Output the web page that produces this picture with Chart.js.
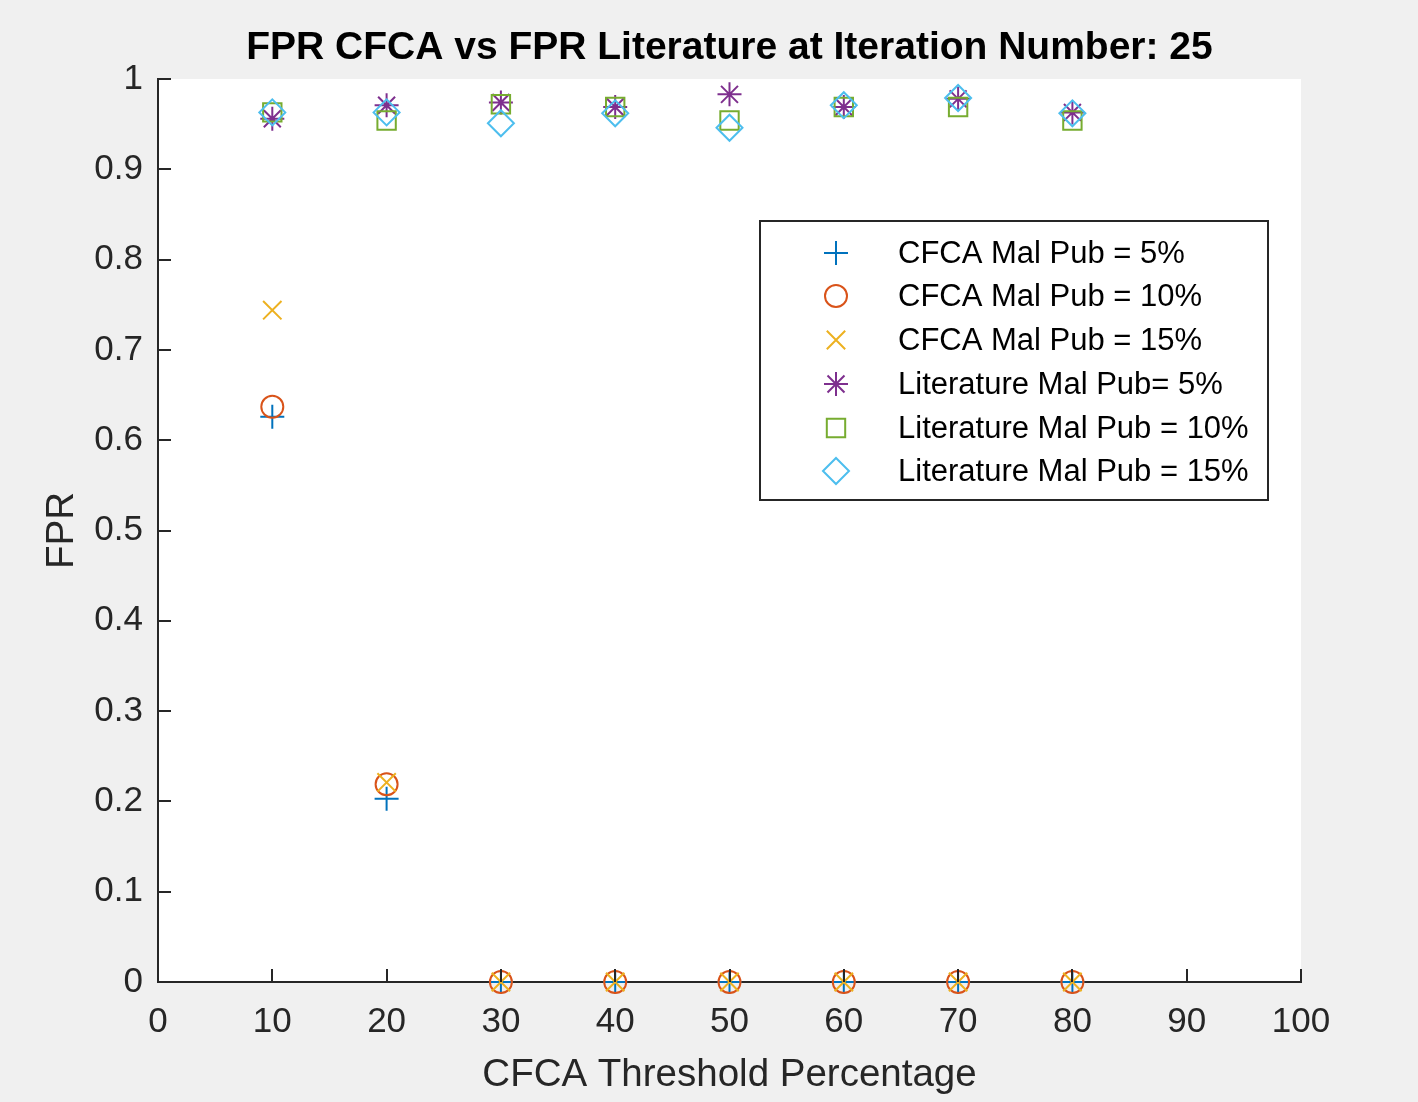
<!DOCTYPE html>
<html>
<head>
<meta charset="utf-8">
<script src="https://cdn.jsdelivr.net/npm/chart.js@4/dist/chart.umd.min.js"></script>
<style>
  html, body { margin: 0; padding: 0; background: #f0f0f0; }
  #wrap { width: 1418px; height: 1102px; }
  canvas { display: block; }
</style>
</head>
<body>
<div id="wrap"><canvas id="c" width="1418" height="1102"></canvas></div>
<script>
// ---- data ----
const thresholds = [10, 20, 30, 40, 50, 60, 70, 80];
const cfca5  = [0.626, 0.203, 0, 0, 0, 0, 0, 0];
const cfca10 = [0.637, 0.219, 0, 0, 0, 0, 0, 0];
const cfca15 = [0.744, 0.221, 0, 0, 0, 0, 0, 0];
const lit5   = [0.956, 0.971, 0.974, 0.969, 0.983, 0.969, 0.978, 0.963];
const lit10  = [0.963, 0.954, 0.972, 0.969, 0.954, 0.969, 0.969, 0.954];
const lit15  = [0.963, 0.963, 0.951, 0.962, 0.946, 0.971, 0.979, 0.962];
const seriesLabels = [
  'CFCA Mal Pub = 5%',
  'CFCA Mal Pub = 10%',
  'CFCA Mal Pub = 15%',
  'Literature Mal Pub= 5%',
  'Literature Mal Pub = 10%',
  'Literature Mal Pub = 15%'
];
const xTicks = [0, 10, 20, 30, 40, 50, 60, 70, 80, 90, 100];
const yTicks = [0, 0.1, 0.2, 0.3, 0.4, 0.5, 0.6, 0.7, 0.8, 0.9, 1];
const titleText = 'FPR CFCA vs FPR Literature at Iteration Number: 25';
const xTitle = 'CFCA Threshold Percentage';
const yTitle = 'FPR';

// ---- styles ----
const FONT = '"Liberation Sans", Arial, Helvetica, sans-serif';
const AXIS = '#262626';
const colors = ['#0072BD', '#D95319', '#EDB120', '#7E2F8E', '#77AC30', '#4DBEEE'];
const styles = ['cross', 'circle', 'crossRot', 'star', 'rect', 'rectRot'];
const radii = [12, 11, 13, 12, 13, 13];
const values = [cfca5, cfca10, cfca15, lit5, lit10, lit15];

const datasets = values.map((vals, i) => ({
  label: seriesLabels[i],
  data: thresholds.map((t, k) => ({x: t, y: vals[k]})),
  showLine: false,
  pointStyle: styles[i],
  pointRadius: radii[i],
  pointHoverRadius: radii[i],
  pointBorderWidth: 2,
  borderColor: colors[i],
  backgroundColor: 'rgba(0,0,0,0)',
  pointBackgroundColor: 'rgba(0,0,0,0)',
  order: 5 - i,
  clip: false
}));

const bgPlugin = {
  id: 'bg',
  beforeDraw(chart) {
    const {ctx, chartArea: a} = chart;
    ctx.save();
    ctx.fillStyle = '#f0f0f0';
    ctx.fillRect(0, 0, chart.width, chart.height);
    ctx.fillStyle = '#ffffff';
    ctx.fillRect(a.left, a.top, a.right - a.left, a.bottom - a.top);
    ctx.restore();
  }
};

const titlePlugin = {
  id: 'axesTitle',
  afterDraw(chart) {
    const {ctx, chartArea: a} = chart;
    ctx.save();
    ctx.fillStyle = '#000000';
    ctx.font = 'bold 39px ' + FONT;
    ctx.textAlign = 'center';
    ctx.textBaseline = 'middle';
    ctx.fillText(titleText, (a.left + a.right) / 2, 48);
    ctx.restore();
  }
};

const tickPlugin = {
  id: 'innerTicks',
  afterDraw(chart) {
    const {ctx, chartArea: a, scales} = chart;
    ctx.save();
    ctx.strokeStyle = AXIS;
    ctx.lineWidth = 2;
    ctx.beginPath();
    scales.x.ticks.forEach(t => {
      const px = Math.round(scales.x.getPixelForValue(t.value));
      ctx.moveTo(px, a.bottom);
      ctx.lineTo(px, a.bottom - 13);
    });
    scales.y.ticks.forEach(t => {
      const py = Math.round(scales.y.getPixelForValue(t.value));
      ctx.moveTo(a.left, py);
      ctx.lineTo(a.left + 13, py);
    });
    ctx.stroke();
    ctx.restore();
  }
};

const legendPlugin = {
  id: 'boxLegend',
  afterDraw(chart) {
    const {ctx} = chart;
    const box = {x: 760, y: 221, w: 508, h: 279};
    const rowY = [253, 296, 340, 384, 428, 471];
    ctx.save();
    ctx.fillStyle = '#ffffff';
    ctx.fillRect(box.x, box.y, box.w, box.h);
    ctx.strokeStyle = AXIS;
    ctx.lineWidth = 2;
    ctx.strokeRect(box.x, box.y, box.w, box.h);
    chart.data.datasets.forEach((ds, i) => {
      const y = rowY[i];
      ctx.strokeStyle = ds.borderColor;
      ctx.fillStyle = 'rgba(0,0,0,0)';
      ctx.lineWidth = 2;
      Chart.helpers.drawPoint(ctx, {
        pointStyle: ds.pointStyle,
        radius: ds.pointRadius,
        rotation: 0,
        borderWidth: 2
      }, 836, y);
      ctx.fillStyle = '#000000';
      ctx.font = '31px ' + FONT;
      ctx.textBaseline = 'middle';
      ctx.textAlign = 'left';
      ctx.fillText(ds.label, 898, y + 1);
    });
    ctx.restore();
  }
};

new Chart(document.getElementById('c'), {
  type: 'scatter',
  data: { datasets },
  options: {
    responsive: false,
    animation: false,
    events: [],
    layout: { padding: { left: 0, right: 117, top: 79, bottom: 0 } },
    plugins: {
      legend: { display: false },
      tooltip: { enabled: false },
      title: { display: false }
    },
    scales: {
      x: {
        type: 'linear',
        min: 0, max: 100,
        afterBuildTicks(s) { s.ticks = xTicks.map(v => ({value: v})); },
        afterFit(s) { s.height = 120; },
        grid: { display: true, drawOnChartArea: false, drawTicks: false },
        border: { display: true, color: AXIS, width: 2 },
        ticks: {
          color: '#262626',
          padding: 19,
          maxRotation: 0,
          autoSkip: false,
          font: { family: FONT, size: 35 }
        },
        title: {
          display: true,
          text: xTitle,
          color: '#262626',
          font: { family: FONT, size: 38.5, lineHeight: 1.2 },
          padding: { top: 0, bottom: 4 }
        }
      },
      y: {
        type: 'linear',
        min: 0, max: 1,
        afterBuildTicks(s) { s.ticks = yTicks.map(v => ({value: v})); },
        afterFit(s) { s.width = 158; },
        grid: { display: true, drawOnChartArea: false, drawTicks: false },
        border: { display: true, color: AXIS, width: 2 },
        ticks: {
          color: '#262626',
          padding: 15,
          autoSkip: false,
          font: { family: FONT, size: 35 },
          callback: v => String(Math.round(v * 10) / 10)
        },
        title: {
          display: true,
          text: yTitle,
          color: '#262626',
          font: { family: FONT, size: 38.5, lineHeight: 1.2 },
          padding: { top: 39, bottom: 0 }
        }
      }
    }
  },
  plugins: [bgPlugin, tickPlugin, titlePlugin, legendPlugin]
});
</script>
</body>
</html>
